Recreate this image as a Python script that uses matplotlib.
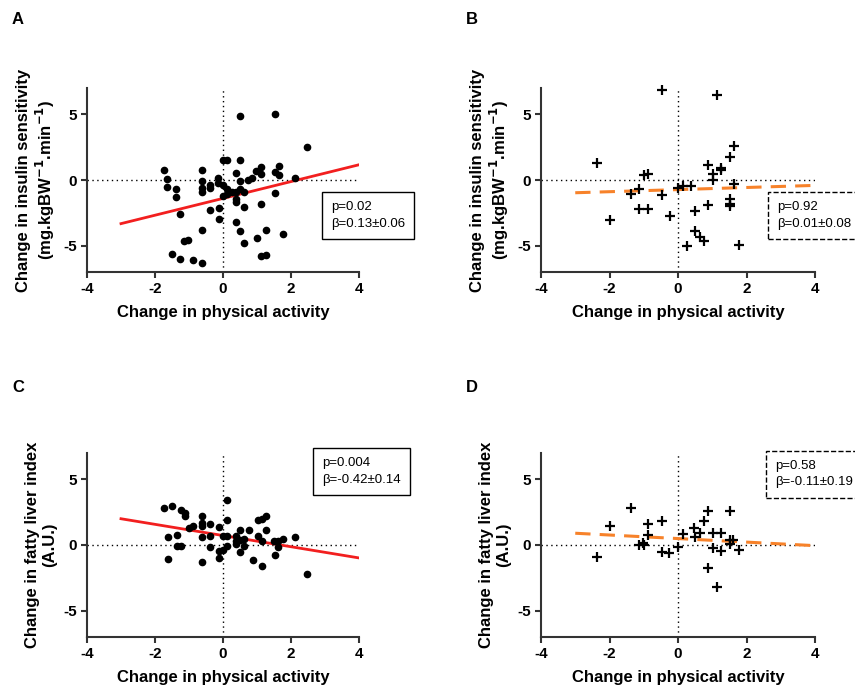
import numpy as np
import matplotlib
matplotlib.use('Agg')
import matplotlib.pyplot as plt

plt.rcParams['font.family'] = ['Liberation Sans', 'DejaVu Sans']
plt.rcParams['axes.unicode_minus'] = False

# Panel A: physical activity vs insulin sensitivity (group 1)
a_x = [0.51, 1.52, 2.48, -1.75, -1.64, -1.64, -1.39, -1.39, -1.27, -1.15, -1.03, -1.51, -1.27, -0.88,
       -0.63, -0.63, -0.63, -0.63, -0.63, -0.63, -0.37, -0.37, -0.37, -0.14, -0.14, -0.12, -0.12, 0.0,
       0.0, 0.0, 0.13, 0.13, 0.13, 0.25, 0.37, 0.37, 0.37, 0.37, 0.51, 0.51, 0.51, 0.37, 0.51, 0.63,
       0.63, 0.63, 0.74, 0.86, 0.98, 1.13, 1.13, 1.13, 1.01, 1.13, 1.25, 1.25, 1.52, 1.52, 1.64, 1.64,
       1.76, 2.11]
a_y = [4.87, 5.05, 2.51, 0.79, 0.08, -0.51, -0.69, -1.28, -2.62, -4.62, -4.59, -5.64, -6.03, -6.08,
       -6.28, -3.77, 0.79, -0.10, -0.62, -0.95, -0.38, -0.62, -2.31, 0.13, -0.23, -2.15, -2.95, -0.38,
       -1.21, 1.49, 1.49, -0.69, -1.08, -0.95, -0.95, -1.46, -1.67, 0.56, 1.54, -0.05, -0.69, -3.18,
       -3.90, -2.03, -0.95, -4.79, 0.03, 0.13, 0.72, 0.97, 0.46, -1.85, -4.41, -5.77, -5.69, -3.77,
       0.59, -1.00, 1.05, 0.41, -4.08, 0.13]

# Panel B: physical activity vs insulin sensitivity (group 2)
b_x = [-0.48, 1.14, -2.36, -2.0, -1.38, -1.13, -1.13, -0.99, -0.87, -0.87, -0.48, -0.24, 0.0, 0.14,
       0.39, 0.26, 0.50, 0.50, 0.63, 0.75, 0.89, 0.89, 1.01, 1.01, 1.26, 1.26, 1.52, 1.64, 1.64, 1.52,
       1.52, 1.52, 1.77]
b_y = [6.85, 6.46, 1.28, -3.03, -1.10, -0.67, -2.21, 0.38, 0.44, -2.21, -1.15, -2.77, -0.59, -0.46,
       -0.46, -5.0, -2.33, -3.85, -4.31, -4.62, 1.13, -1.87, 0.49, -0.03, 0.95, 0.77, 1.72, 2.56, -0.28,
       -1.44, -1.79, -2.0, -4.92]

# Panel C: physical activity vs fatty liver index (group 1)
c_x = [-1.75, -1.49, -1.24, -1.12, -1.11, -1.62, -1.62, -1.36, -1.36, -1.24, -0.99, -0.87, -0.62,
       -0.62, -0.62, -0.62, -0.62, -0.37, -0.37, -0.37, -0.12, -0.12, -0.12, 0.0, 0.0, 0.13, 0.13, 0.13,
       0.13, 0.37, 0.37, 0.37, 0.50, 0.50, 0.50, 0.63, 0.63, 0.76, 0.87, 1.02, 1.02, 1.15, 1.15, 1.15,
       1.26, 1.26, 1.50, 1.52, 1.63, 1.63, 1.75, 2.11, 2.48]
c_y = [2.83, 2.93, 2.70, 2.45, 2.17, 0.59, -1.07, 0.79, -0.05, -0.10, 1.28, 1.43, 2.24, 1.68, 1.43,
       0.59, -1.28, 1.61, 0.66, -0.18, 1.35, -0.43, -1.02, -0.36, 0.66, 3.39, 1.94, 0.66, -0.05, 0.66,
       0.33, 0.08, 0.41, 1.17, -0.56, 0.46, -0.10, 1.17, -1.12, 0.66, 1.94, 1.99, 0.33, -1.58, 2.17,
       1.17, 0.33, -0.77, 0.33, -0.18, 0.46, 0.59, -2.17]

# Panel D: physical activity vs fatty liver index (group 2)
d_x = [-2.36, -2.0, -1.38, -1.13, -1.01, -0.99, -0.87, -0.87, -0.48, -0.48, -0.26, 0.0, 0.14, 0.48,
       0.51, 0.63, 0.75, 0.89, 0.89, 1.01, 1.01, 1.14, 1.26, 1.26, 1.52, 1.52, 1.52, 1.62, 1.77]
d_y = [-0.94, 1.48, 2.85, 0.0, 0.13, 0.0, 1.58, 0.76, 1.86, -0.51, -0.64, -0.13, 0.81, 1.27, 0.59,
       0.89, 1.83, 2.60, -1.73, 0.94, -0.25, -3.18, 0.94, -0.46, 2.60, 0.38, 0.05, 0.38, -0.38]

# regression lines (intercept, slope) as drawn, fitted over x = -3..4
a_fit = (-1.40, 0.64)
b_fit = (-0.73, 0.08)
c_fit = (0.72, -0.426)
d_fit = (0.49, -0.135)
fit_range = (-3, 4)

a_text = 'p=0.02\nβ=0.13±0.06'
b_text = 'p=0.92\nβ=0.01±0.08'
c_text = 'p=0.004\nβ=-0.42±0.14'
d_text = 'p=0.58\nβ=-0.11±0.19'

xlabel = 'Change in physical activity'
ylabel_top = 'Change in insulin sensitivity\n(mg.kgBW$^{\\mathbf{-1}}$.min$^{\\mathbf{-1}}$)'
ylabel_bottom = 'Change in fatty liver index\n(A.U.)'

fig = plt.figure(figsize=(8.55, 6.94), dpi=100)
W, H = 855, 694


def make_axes(left, top, right, bottom):
    return fig.add_axes([left / W, 1 - bottom / H, (right - left) / W, (bottom - top) / H])


def draw_panel(ax, xs, ys, fit, text, ylabel, group2, box_xy):
    ax.axhline(0, color='black', ls=(0, (1, 2.5)), lw=1.0, zorder=1)
    ax.axvline(0, color='black', ls=(0, (1, 2.5)), lw=1.0, zorder=1)
    if group2:
        ax.plot(xs, ys, '+', color='black', ms=7, mew=1.6, zorder=3, clip_on=False)
        line_kw = dict(color='#F7822A', lw=2.2, ls=(0, (5, 3)))
    else:
        ax.plot(xs, ys, 'o', color='black', ms=4.5, zorder=3, clip_on=False)
        line_kw = dict(color='#F21F1F', lw=2.0, ls='-')
    lx = np.array(fit_range, dtype=float)
    ax.plot(lx, fit[0] + fit[1] * lx, zorder=2, **line_kw)

    ax.set_xlim(-4, 4)
    ax.set_ylim(-7, 7)
    ax.set_xticks([-4, -2, 0, 2, 4])
    ax.set_yticks([-5, 0, 5])
    for s in ['top', 'right']:
        ax.spines[s].set_visible(False)
    for s in ['left', 'bottom']:
        ax.spines[s].set_linewidth(1.5)
        ax.spines[s].set_color('#333333')
    ax.tick_params(direction='out', length=4, width=1.5, labelsize=11, colors='#333333')
    for lab in ax.get_xticklabels() + ax.get_yticklabels():
        lab.set_fontweight('bold')
        lab.set_color('black')
    ax.set_xlabel(xlabel, fontsize=12, fontweight='bold', labelpad=6)
    ax.set_ylabel(ylabel, fontsize=12, fontweight='bold', labelpad=4)

    ls = '--' if group2 else '-'
    fig.text(box_xy[0] / W, 1 - box_xy[1] / H, text, fontsize=9.5, va='top', ha='left',
             linespacing=1.5,
             bbox=dict(boxstyle='square,pad=0.7', fc='white', ec='black', lw=1.0, ls=ls))


axA = make_axes(87, 88, 359, 272)
axB = make_axes(541, 88, 815, 272)
axC = make_axes(87, 453, 359, 637)
axD = make_axes(541, 453, 815, 637)

draw_panel(axA, a_x, a_y, a_fit, a_text, ylabel_top, False, (331, 201))
draw_panel(axB, b_x, b_y, b_fit, b_text, ylabel_top, True, (777, 201))
draw_panel(axC, c_x, c_y, c_fit, c_text, ylabel_bottom, False, (322, 457))
draw_panel(axD, d_x, d_y, d_fit, d_text, ylabel_bottom, True, (775, 460))

for letter, (px, py) in zip('ABCD', [(12, 12), (466, 12), (12, 380), (466, 380)]):
    fig.text(px / W, 1 - py / H, letter, fontsize=12, fontweight='bold', va='top', ha='left')

fig.savefig('out.png', dpi=100)
